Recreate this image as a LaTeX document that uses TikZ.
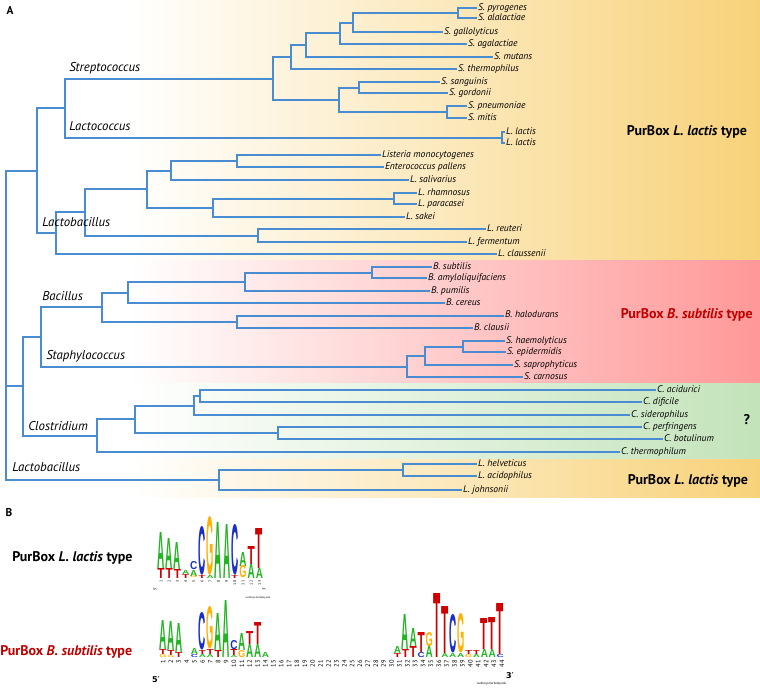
\documentclass[tikz,border=0pt]{standalone}
\usepackage{fontspec}
\setmainfont{PT Sans}
\newfontfamily\logofont{Liberation Sans}
\newfontfamily\primefont{DejaVu Sans}
\usepackage{graphicx}
\definecolor{treeblue}{HTML}{4A8CD2}
\definecolor{ylw}{HTML}{F8D27A}
\definecolor{rd}{HTML}{FF9898}
\definecolor{grn}{HTML}{C3E3BA}
\definecolor{dred}{HTML}{C00000}
\definecolor{colA}{HTML}{22B522}
\definecolor{colC}{HTML}{1A2ECC}
\definecolor{colG}{HTML}{FFB000}
\definecolor{colT}{HTML}{D00000}
\newcommand\spfont{\fontsize{7.2}{8}\selectfont\itshape}
\newcommand\gfont{\fontsize{9.6}{11}\selectfont\itshape}
\newcommand\pfont{\fontsize{10.5}{12}\selectfont\bfseries}
\def\lw{5.4pt}
\newcommand\logocol[3]{%
  \xdef\lbase{#2}%
  \foreach \L/\H in {#3}{%
    \pgfmathsetmacro\hh{0.75*\H}%
    \node[anchor=south, inner sep=0pt, outer sep=0pt, text=col\L] at (#1,\lbase) {\resizebox{\lw}{\hh pt}{\logofont\bfseries \L}};%
    \pgfmathsetmacro\nb{\lbase-\H}%
    \xdef\lbase{\nb}%
  }%
}
\tikzset{
 br/.style={draw=treeblue, line width=1.5pt},
 leaf/.style={anchor=west, inner sep=0.6pt, font=\spfont, text height=5.2pt, text depth=1.5pt},
 genus/.style={anchor=west, inner sep=0pt, font=\gfont, text height=7pt, text depth=2pt},
 pur/.style={font=\pfont, inner sep=0pt},
 tiny/.style={font=\fontsize{4.8}{5}\selectfont, inner sep=0pt, rotate=90, anchor=east},
}
\begin{document}
\begin{tikzpicture}[x=0.75pt,y=-0.75pt]
\useasboundingbox (0,0) rectangle (760,687);
% backgrounds
\shade[left color=white, right color=ylw] (130,0) rectangle (760,260);
\shade[left color=white, right color=rd] (130,260) rectangle (760,383);
\shade[left color=white, right color=grn] (130,383) rectangle (760,459);
\shade[left color=white, right color=ylw] (130,459) rectangle (760,497);

\node[font=\fontsize{8.5}{10}\selectfont\bfseries, inner sep=0pt] (labA) at (10,10) {A};
\node[font=\fontsize{8.5}{10}\selectfont\bfseries, inner sep=0pt] (labB) at (9,513) {B};

% ---------- Streptococcus / Lactococcus
\coordinate (pa) at (458,13);
\coordinate (nA) at (353,22.5);
\coordinate (nB) at (340,33);
\coordinate (nC) at (306,45);
\coordinate (nD) at (291,57);
\coordinate (nF) at (359,87.5);
\coordinate (nG) at (447,112);
\coordinate (nE) at (339,100);
\coordinate (nS1) at (273,78.5);
\coordinate (nLL) at (502,137.5);
\coordinate (nH) at (65,108);
\node[leaf] (s1) at (477,8) {S. pyrogenes};
\node[leaf] (s2) at (477,18) {S. alalactiae};
\node[leaf] (s3) at (443,32) {S. gallolyticus};
\node[leaf] (s4) at (467,44) {S. agalactiae};
\node[leaf] (s5) at (493,57) {S. mutans};
\node[leaf] (s6) at (457,69) {S. thermophilus};
\node[leaf] (s7) at (440,82) {S. sanguinis};
\node[leaf] (s8) at (448,93) {S. gordonii};
\node[leaf] (s9) at (467,106) {S. pneumoniae};
\node[leaf] (s10) at (467,118) {S. mitis};
\node[leaf] (l1) at (505,132) {L. lactis};
\node[leaf] (l2) at (505,143) {L. lactis};
\draw[br] (pa) |- (s1.west) (pa) |- (s2.west);
\draw[br] (nA) |- (pa) (nA) |- (s3.west);
\draw[br] (nB) |- (nA) (nB) |- (s4.west);
\draw[br] (nC) |- (nB) (nC) |- (s5.west);
\draw[br] (nD) |- (nC) (nD) |- (s6.west);
\draw[br] (nF) |- (s7.west) (nF) |- (s8.west);
\draw[br] (nG) |- (s9.west) (nG) |- (s10.west);
\draw[br] (nE) |- (nF) (nE) |- (nG);
\draw[br] (nS1) |- (nD) (nS1) |- (nE);
\draw[br] (nLL) |- (l1.west) (nLL) |- (l2.west);
\draw[br] (nH) |- (nS1) (nH) |- (nLL);

% ---------- Lactobacillus (upper)
\coordinate (nN) at (237,161);
\coordinate (nL) at (171,170.5);
\coordinate (nM2) at (394,198.5);
\coordinate (nM) at (213,207.5);
\coordinate (nJ) at (147,189);
\coordinate (nK) at (258,235.5);
\coordinate (nI) at (85,212);
\coordinate (nLac) at (56,233);
\coordinate (nTop) at (37,170.5);
\node[leaf] (c1) at (381,155) {Listeria monocytogenes};
\node[leaf] (c2) at (384,167) {Enterococcus pallens};
\node[leaf] (c3) at (409,180) {L. salivarius};
\node[leaf] (c4) at (417,193) {L. rhamnosus};
\node[leaf] (c5) at (417,204) {L. paracasei};
\node[leaf] (c6) at (405,217) {L. sakei};
\node[leaf] (c7) at (486,229) {L. reuteri};
\node[leaf] (c8) at (467,242) {L. fermentum};
\node[leaf] (c9) at (497,254) {L. claussenii};
\draw[br] (nN) |- (c1.west) (nN) |- (c2.west);
\draw[br] (nL) |- (nN) (nL) |- (c3.west);
\draw[br] (nM2) |- (c4.west) (nM2) |- (c5.west);
\draw[br] (nM) |- (nM2) (nM) |- (c6.west);
\draw[br] (nJ) |- (nL) (nJ) |- (nM);
\draw[br] (nK) |- (c7.west) (nK) |- (c8.west);
\draw[br] (nI) |- (nJ) (nI) |- (nK);
\draw[br] (nLac) |- (nI) (nLac) |- (c9.west);
\draw[br] (nTop) |- (nH) (nTop) |- (nLac);

% ---------- Bacillus / Staphylococcus
\coordinate (nQ) at (372,272.5);
\coordinate (nP) at (245,281.5);
\coordinate (nR) at (128,292.5);
\coordinate (nT) at (237,321.5);
\coordinate (nS) at (102,307);
\coordinate (nX) at (463,346.5);
\coordinate (nW) at (425,356);
\coordinate (nV) at (407,366.5);
\coordinate (nU) at (41,337);
\node[leaf] (b1) at (432,267) {B. subtilis};
\node[leaf] (b2) at (427,278) {B. amyloliquifaciens};
\node[leaf] (b3) at (430,291) {B. pumilis};
\node[leaf] (b4) at (445,303) {B. cereus};
\node[leaf] (b5) at (504,315.5) {B. halodurans};
\node[leaf] (b6) at (473,328) {B. clausii};
\node[leaf] (b7) at (505,341) {S. haemolyticus};
\node[leaf] (b8) at (506,352) {S. epidermidis};
\node[leaf] (b9) at (513,365) {S. saprophyticus};
\node[leaf] (b10) at (523,377) {S. carnosus};
\draw[br] (nQ) |- (b1.west) (nQ) |- (b2.west);
\draw[br] (nP) |- (nQ) (nP) |- (b3.west);
\draw[br] (nR) |- (nP) (nR) |- (b4.west);
\draw[br] (nT) |- (b5.west) (nT) |- (b6.west);
\draw[br] (nS) |- (nR) (nS) |- (nT);
\draw[br] (nX) |- (b7.west) (nX) |- (b8.west);
\draw[br] (nW) |- (nX) (nW) |- (b9.west);
\draw[br] (nV) |- (nW) (nV) |- (b10.west);
\draw[br] (nU) |- (nS) (nU) |- (nV);

% ---------- Clostridium
\coordinate (nDD) at (200,396);
\coordinate (nBB) at (194,405.5);
\coordinate (nCC) at (278,433);
\coordinate (nAA) at (135,419);
\coordinate (nZ) at (97,435.5);
\coordinate (nY) at (23,386);
\node[leaf] (k1) at (656,390) {C. acidurici};
\node[leaf] (k2) at (642,402) {C. dificile};
\node[leaf] (k3) at (630,415) {C. siderophilus};
\node[leaf] (k4) at (642,427) {C. perfringens};
\node[leaf] (k5) at (663,439) {C. botulinum};
\node[leaf] (k6) at (620,452) {C. thermophilum};
\draw[br] (nDD) |- (k1.west) (nDD) |- (k2.west);
\draw[br] (nBB) |- (nDD) (nBB) |- (k3.west);
\draw[br] (nCC) |- (k4.west) (nCC) |- (k5.west);
\draw[br] (nAA) |- (nBB) (nAA) |- (nCC);
\draw[br] (nZ) |- (nAA) (nZ) |- (k6.west);
\draw[br] (nY) |- (nU) (nY) |- (nZ);

% ---------- Lactobacillus (lower)
\coordinate (nEE) at (403,470);
\coordinate (nFF) at (219,480);
\coordinate (root) at (6,325);
\node[leaf] (m1) at (477,464) {L. helveticus};
\node[leaf] (m2) at (477,476) {L. acidophilus};
\node[leaf] (m3) at (462,490) {L. johnsonii};
\draw[br] (nEE) |- (m1.west) (nEE) |- (m2.west);
\draw[br] (nFF) |- (nEE) (nFF) |- (m3.west);
\draw[br] (root) |- (nTop) (root) |- (nY) (root) |- (nFF);

% genus labels
\node[genus] (gStrep) at (69,68.3) {Streptococcus};
\node[genus] (gLcoc) at (69,127.3) {Lactococcus};
\node[genus] (gLac1) at (42,223.3) {Lactobacillus};
\node[genus] (gBac) at (42,297.3) {Bacillus};
\node[genus] (gStaph) at (46,356) {Staphylococcus};
\node[genus] (gClos) at (28,426.7) {Clostridium};
\node[genus] (gLac2) at (12,468.3) {Lactobacillus};

% PurBox labels
\node[pur] (p1) at (687,131.7) {PurBox \textit{L. lactis} type};
\node[pur, text=dred] (p2) at (686.7,315) {PurBox \textit{B. subtilis} type};
\node[pur] (pq) at (746.7,420) {?};
\node[pur] (p3) at (688,480.7) {PurBox \textit{L. lactis} type};

% ---------- Part B
\node[pur, anchor=west] (q1) at (12,558.3) {PurBox \textit{L. lactis} type};
\node[pur, anchor=west, text=dred] (q2) at (0,651.7) {PurBox \textit{B. subtilis} type};

% logo 1
\def\bA{578}
\logocol{161}{\bA}{T/10,A/36}
\logocol{169.2}{\bA}{T/10,A/30}
\logocol{177.4}{\bA}{T/9,A/27}
\logocol{185.6}{\bA}{T/4,A/4}
\logocol{193.8}{\bA}{G/2,A/6,C/8}
\logocol{202}{\bA}{T/3,C/48}
\logocol{210.2}{\bA}{A/3,G/58}
\logocol{218.4}{\bA}{A/56}
\logocol{226.6}{\bA}{A/54}
\logocol{234.8}{\bA}{T/3,C/50}
\logocol{243}{\bA}{G/12,A/14}
\logocol{251.2}{\bA}{A/14,T/18}
\logocol{259.4}{\bA}{A/10,T/40}
\foreach \n in {1,...,13}{
  \node[tiny, font=\fontsize{3}{3.5}\selectfont] (na\n) at ({161+(\n-1)*8.2},580.5) {\n};
}
\node[tiny, font=\fontsize{2.8}{3}\selectfont\primefont] (fa) at (155,587) {5′};
\node[tiny, font=\fontsize{2.8}{3}\selectfont\primefont] (ta) at (264,587) {3′};
\node[font=\fontsize{2}{2.5}\selectfont, inner sep=0pt] (wa) at (258,597.5) {weblogo.berkeley.edu};

% logo 2
\def\bB{657.5}
\logocol{163}{\bB}{G/3,T/5,A/29}
\logocol{170.9}{\bB}{G/2,T/5,A/29}
\logocol{178.8}{\bB}{T/5,A/29}
\logocol{194.5}{\bB}{C/3,A/6}
\logocol{202.4}{\bB}{A/3,T/4,C/37}
\logocol{210.3}{\bB}{A/3,T/5,G/42}
\logocol{218.2}{\bB}{T/7,A/37}
\logocol{226}{\bB}{A/57}
\logocol{233.9}{\bB}{A/2,T/6,C/9}
\logocol{241.8}{\bB}{G/7,A/17}
\logocol{249.7}{\bB}{A/13,T/13}
\logocol{257.6}{\bB}{A/13,T/22}
\logocol{265.4}{\bB}{A/5}
\logocol{397.5}{\bB}{T/4,A/7}
\logocol{405.5}{\bB}{T/8,A/35}
\logocol{413.3}{\bB}{T/11,A/18}
\logocol{421.2}{\bB}{C/5,T/20}
\logocol{429.1}{\bB}{A/11,G/14}
\logocol{437}{\bB}{T/64}
\logocol{444.9}{\bB}{A/4,T/47}
\logocol{452.8}{\bB}{A/4,C/38}
\logocol{460.7}{\bB}{A/4,G/39}
\logocol{468.6}{\bB}{G/3,T/4}
\logocol{476.5}{\bB}{A/3,T/4}
\logocol{484.4}{\bB}{A/8,T/31}
\logocol{492.2}{\bB}{A/8,T/32}
\logocol{500.1}{\bB}{C/3,T/51}
\foreach \n in {1,...,44}{
  \node[tiny] (nb\n) at ({163+(\n-1)*7.88},660) {\n};
}
\node[font=\fontsize{6}{7}\selectfont\bfseries\primefont, inner sep=0pt] (fb) at (156,679.5) {5′};
\node[font=\fontsize{6}{7}\selectfont\bfseries\primefont, inner sep=0pt] (tb) at (510,675.5) {3′};
\node[font=\fontsize{2.4}{3}\selectfont, inner sep=0pt] (wb) at (491.7,683.5) {weblogo.berkeley.edu};
\end{tikzpicture}
\end{document}
